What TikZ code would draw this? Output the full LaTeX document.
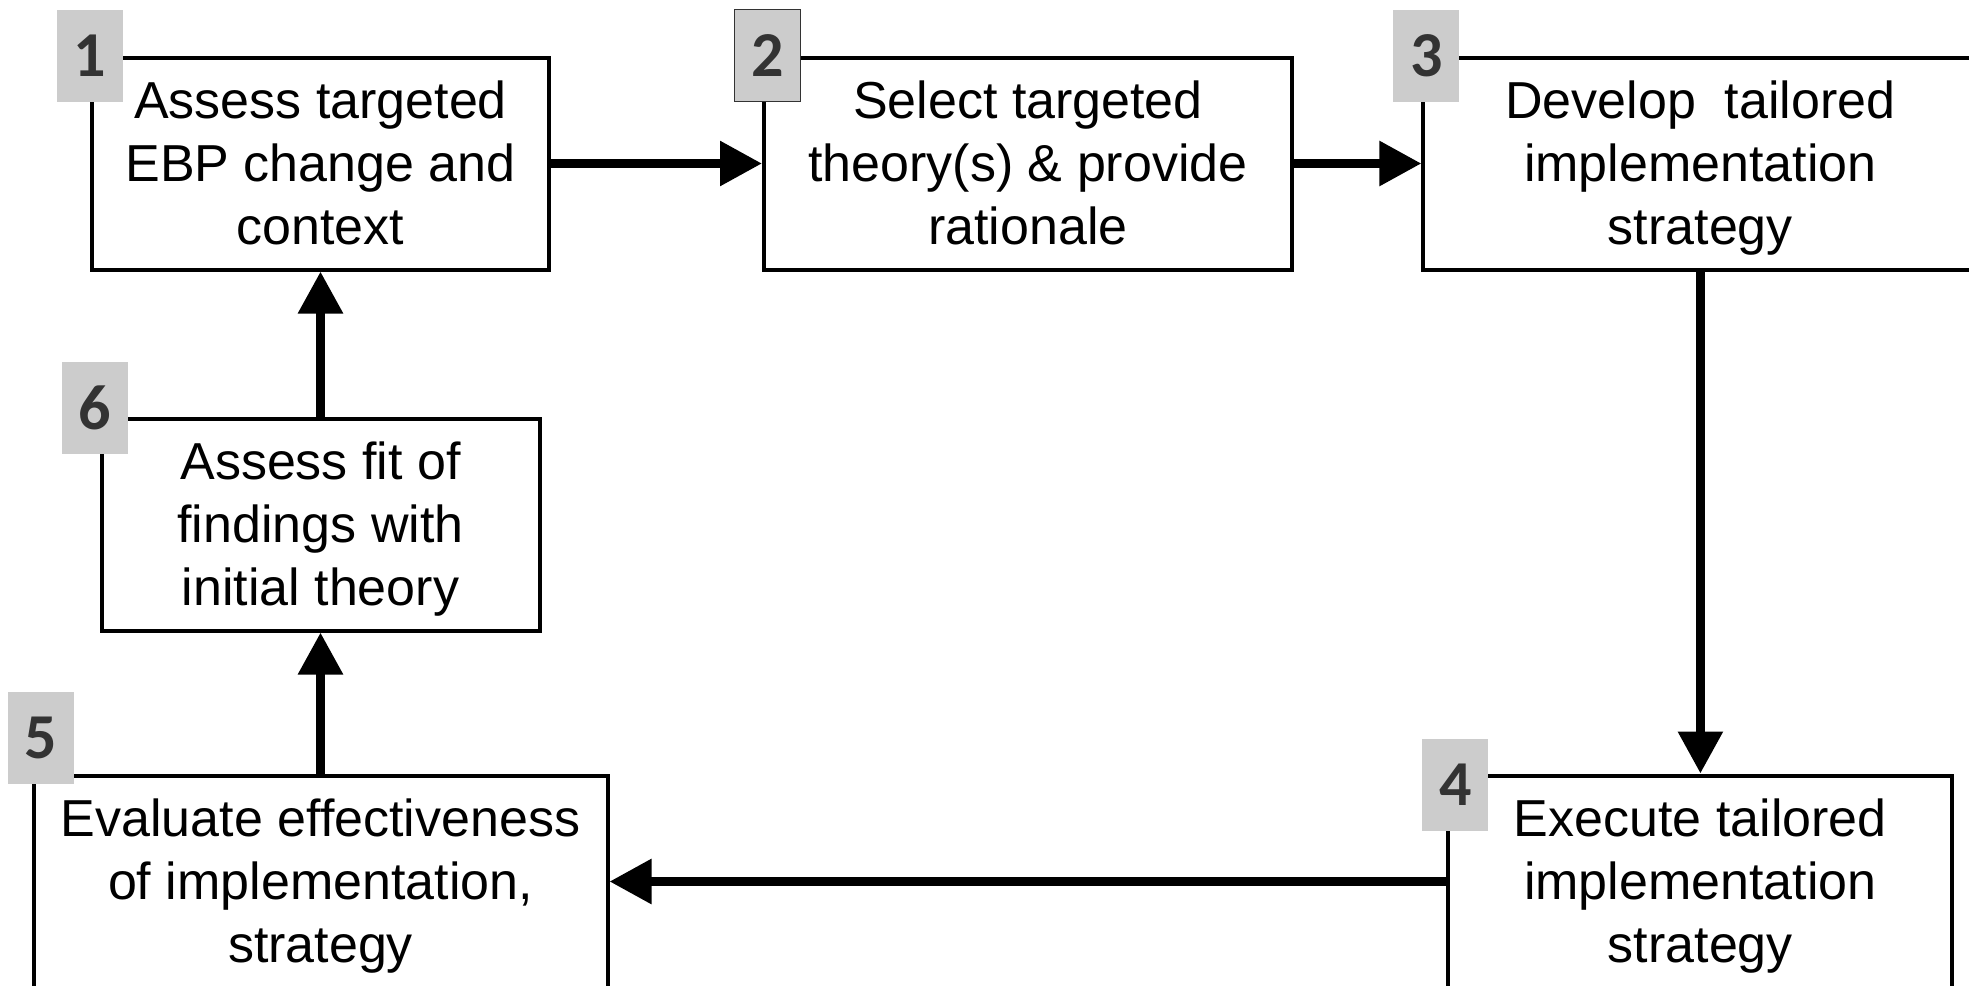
\documentclass[tikz,border=0pt]{standalone}
\usepackage{fontspec}
\setmainfont{Liberation Sans}
\newfontfamily\badgefont{Carlito}
\usepackage{tikz}
\usetikzlibrary{arrows.meta, positioning}
\definecolor{badgegray}{HTML}{CCCCCC}
\definecolor{digitgray}{HTML}{333333}

\begin{document}
\begin{tikzpicture}[
    node distance=72.5pt and 105.5pt,
    block/.style={rectangle, draw, line width=2pt, fill=white, align=center, minimum height=106pt, inner sep=0pt, font=\fontsize{26}{31.5}\selectfont, execute at begin node={\rule{0pt}{90pt}}, execute at end node=\strut},
    badge/.style={rectangle, fill=badgegray, minimum width=33pt, minimum height=46pt, inner sep=0pt, font=\badgefont\bfseries\fontsize{32}{32}\selectfont, text=digitgray},
    arrow/.style={-{Triangle[length=21pt, width=21.5pt]}, line width=4.5pt}
]

% Frame
\path[use as bounding box] (0,0) rectangle (984.5pt,-492.5pt);

% Top row
\node[block, minimum width=228.5pt] (assess) at (160.25pt,-81.75pt) {Assess targeted\\EBP change and\\context};
\node[block, minimum width=264pt, right=105.5pt of assess] (select) {Select targeted\\theory(s) \& provide\\rationale};
\node[block, minimum width=277pt, right=63.7pt of select] (develop) {Develop\ \ tailored\\implementation\\strategy};

% Left column
\node[block, minimum width=219pt, below=72.5pt of assess] (fit) {Assess fit of\\findings with\\initial theory};
\node[block, minimum width=287pt, below=70.5pt of fit] (evaluate) {Evaluate effectiveness\\of implementation,\\strategy};

% Bottom right
\node[block, minimum width=252pt, below=251pt of develop] (execute) {Execute tailored\\implementation\\strategy};

% Step numbers
\node[badge] (assess_num) at (assess.north west) {1};
\node[badge, draw=black!80, line width=0.75pt, xshift=2.75pt] (select_num) at (select.north west) {2};
\node[badge, xshift=2.5pt] (develop_num) at (develop.north west) {3};
\node[badge, xshift=4.5pt, yshift=-5.5pt] (execute_num) at (execute.north west) {4};
\node[badge, xshift=4.5pt, yshift=18pt] (evaluate_num) at (evaluate.north west) {5};
\node[badge, xshift=-2.5pt, yshift=4.5pt] (fit_num) at (fit.north west) {6};

% Arrows - cycle
\draw[arrow] (assess) -- (select);
\draw[arrow] (select) -- (develop);
\draw[arrow] (develop) -- (execute);
\draw[arrow] (execute) -- (evaluate);
\draw[arrow] (evaluate) -- (fit);
\draw[arrow] (fit) -- (assess);

\end{tikzpicture}
\end{document}
